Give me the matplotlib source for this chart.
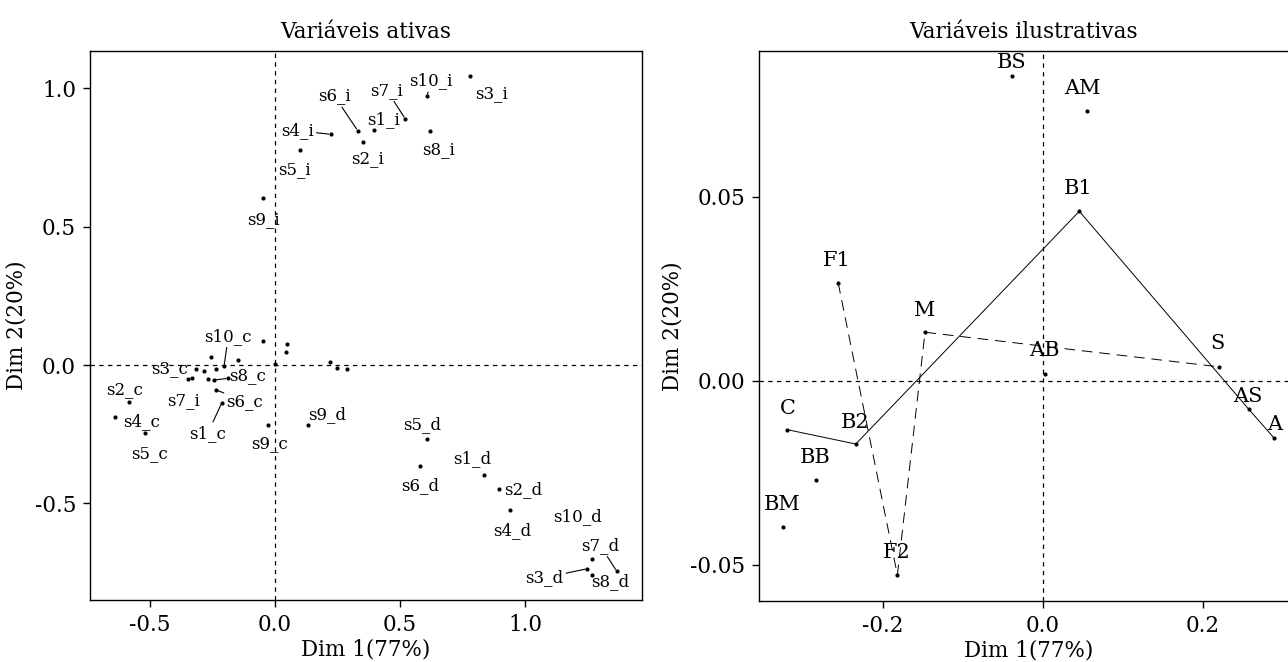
import matplotlib
matplotlib.use("Agg")
import matplotlib.pyplot as plt

plt.rcParams['font.family'] = ['DejaVu Serif']
plt.rcParams['axes.unicode_minus'] = False

# ---------------- data: active variables (left panel) ----------------
left_names = ["s1_i", "s2_i", "s3_i", "s4_i", "s5_i", "s6_i", "s7_i", "s8_i", "s9_i", "s10_i",
              "s10_c", "s3_c", "s8_c", "s2_c", "s7_i", "s6_c", "s4_c", "s1_c", "s5_c", "s9_c", "s9_d",
              "s5_d", "s6_d", "s1_d", "s2_d", "s4_d", "s10_d", "s7_d", "s3_d", "s8_d",
              "", "", "", "", "", "", "", "", "", "", "", "", "", ""]
left_x = [0.395, 0.353, 0.780, 0.223, 0.101, 0.331, 0.521, 0.620, -0.049, 0.608,
          -0.204, -0.317, -0.244, -0.584, -0.333, -0.235, -0.640, -0.213, -0.520, -0.029, 0.133,
          0.607, 0.580, 0.837, 0.896, 0.940, 1.269, 1.367, 1.249, 1.269,
          -0.047, 0.049, 0.044, 0.000, 0.219, 0.249, 0.287, -0.256, -0.149, -0.237, -0.284,
          -0.348, -0.267, -0.187]
left_y = [0.849, 0.806, 1.046, 0.834, 0.777, 0.847, 0.890, 0.847, 0.602, 0.972,
          -0.005, -0.013, -0.054, -0.134, -0.046, -0.090, -0.186, -0.137, -0.245, -0.217, -0.217,
          -0.267, -0.365, -0.396, -0.448, -0.525, -0.702, -0.745, -0.736, -0.759,
          0.087, 0.077, 0.047, 0.004, 0.012, -0.010, -0.013, 0.030, 0.020, -0.014, -0.023,
          -0.050, -0.050, -0.045]

# ---------------- data: illustrative variables (right panel) ----------------
right_names = ["BS", "AM", "B1", "F1", "M", "AB", "S", "AS", "A", "C", "B2", "BB", "BM", "F2"]
right_x = [-0.039, 0.0546, 0.0454, -0.256, -0.1475, 0.003, 0.2196, 0.257, 0.289,
           -0.3196, -0.234, -0.284, -0.325, -0.182]
right_y = [0.0828, 0.0734, 0.0461, 0.0266, 0.0132, 0.0019, 0.0038, -0.0077, -0.0156,
           -0.0133, -0.0172, -0.0271, -0.0398, -0.0528]
solid_path = ["C", "B2", "B1", "AS", "A"]
dashed_path = ["F1", "F2", "M", "S"]

left_title = "Variáveis ativas"
right_title = "Variáveis ilustrativas"
xlab = "Dim 1(77%)"
ylab = "Dim 2(20%)"

# ---------------- layout (label placement in pixels) ----------------
left_off = [(9.6, 10.7), (4.4, -17), (21.7, -17.6), (-33.4, 3.6), (-6.3, -20), (-23.4, 34.7),
            (-18.6, 28.7), (8.3, -19.3), (0.6, -20.7), (4, 15.3),
            (4.3, 30.3), (-25.7, 0.4), (33.3, 4), (-4.7, 13), (-8.4, -22.3), (28.7, -11.3),
            (26.7, -5.4), (-14, -30.3), (4.3, -20.6), (1.3, -18.3), (18.4, 11),
            (-5, 14.7), (0, -20), (-12, 16.4), (24.3, -1), (1.7, -20.4), (-14.6, 42.6),
            (-16.7, 26), (-43, -9), (17.7, -6.7)] + [(0, 0)] * 14
left_seg = [False, False, False, True, False, True, True, False, False, True,
            True, False, True, False, False, True, False, True, False, False, False,
            False, False, False, False, False, False, True, True, False] + [False] * 14
right_off = [(0, 14.3), (-4, 22.3), (-1, 22.7), (-1.5, 22.8), (-0.7, 22), (-1, 23.7), (-1, 23.4),
             (-1, 12.3), (0, 14), (0, 21.3), (-1, 21.3), (-1, 23.4), (-1, 22.2), (-1, 22)]

W, H = 1288, 662
fig = plt.figure(figsize=(W / 100, H / 100), dpi=100)
axL = fig.add_axes([90 / W, (H - 600) / H, (642 - 90) / W, (600 - 51) / H])
axR = fig.add_axes([759 / W, (H - 601) / H, (1298.6 - 759) / W, (601 - 51) / H])

for ax in (axL, axR):
    for s in ax.spines.values():
        s.set_linewidth(1.0)
        s.set_color("black")
    ax.tick_params(direction="out", length=5, width=1.0, labelsize=15.5, colors="black", pad=5)
    ax.axhline(0, color="black", lw=0.9, ls=(0, (3.5, 3.5)), zorder=1)
    ax.axvline(0, color="black", lw=0.9, ls=(0, (3.5, 3.5)), zorder=1)
    ax.set_xlabel(xlab, fontsize=15.5, labelpad=2)
    ax.set_ylabel(ylab, fontsize=15.5, labelpad=5)

# left panel
axL.scatter(left_x, left_y, s=9, color="black", zorder=3, linewidths=0)
for n, x, y, off, seg in zip(left_names, left_x, left_y, left_off, left_seg):
    if not n:
        continue
    ap = dict(arrowstyle="-", lw=0.8, color="black", shrinkA=0, shrinkB=1.5) if seg else None
    axL.annotate(n, (x, y), xytext=off, textcoords="offset pixels", ha="center", va="center",
                 fontsize=12, arrowprops=ap, zorder=4)
axL.set_xlim(-0.74, 1.468)
axL.set_ylim(-0.849, 1.135)
axL.set_xticks([-0.5, 0.0, 0.5, 1.0])
axL.set_xticklabels(["-0.5", "0.0", "0.5", "1.0"])
axL.set_yticks([-0.5, 0.0, 0.5, 1.0])
axL.set_yticklabels(["-0.5", "0.0", "0.5", "1.0"])
axL.set_title(left_title, fontsize=15.5, pad=9)

# right panel
pos = {n: (x, y) for n, x, y in zip(right_names, right_x, right_y)}
axR.plot([pos[n][0] for n in solid_path], [pos[n][1] for n in solid_path],
         color="black", lw=0.7, zorder=2)
axR.plot([pos[n][0] for n in dashed_path], [pos[n][1] for n in dashed_path],
         color="black", lw=0.7, ls=(0, (11, 7)), zorder=2)
axR.scatter(right_x, right_y, s=9, color="black", zorder=3, linewidths=0)
for n, x, y, off in zip(right_names, right_x, right_y, right_off):
    axR.annotate(n, (x, y), xytext=off, textcoords="offset pixels", ha="center", va="center",
                 fontsize=15, zorder=4)
axR.set_xlim(-0.355, 0.3195)
axR.set_ylim(-0.0599, 0.0897)
axR.set_xticks([-0.2, 0.0, 0.2])
axR.set_xticklabels(["-0.2", "0.0", "0.2"])
axR.set_yticks([-0.05, 0.0, 0.05])
axR.set_yticklabels(["-0.05", "0.00", "0.05"])
axR.set_title(right_title, fontsize=15.5, pad=9)
axR.title.set_position((0.49, 1.0))

fig.savefig("out.png", dpi=100)
